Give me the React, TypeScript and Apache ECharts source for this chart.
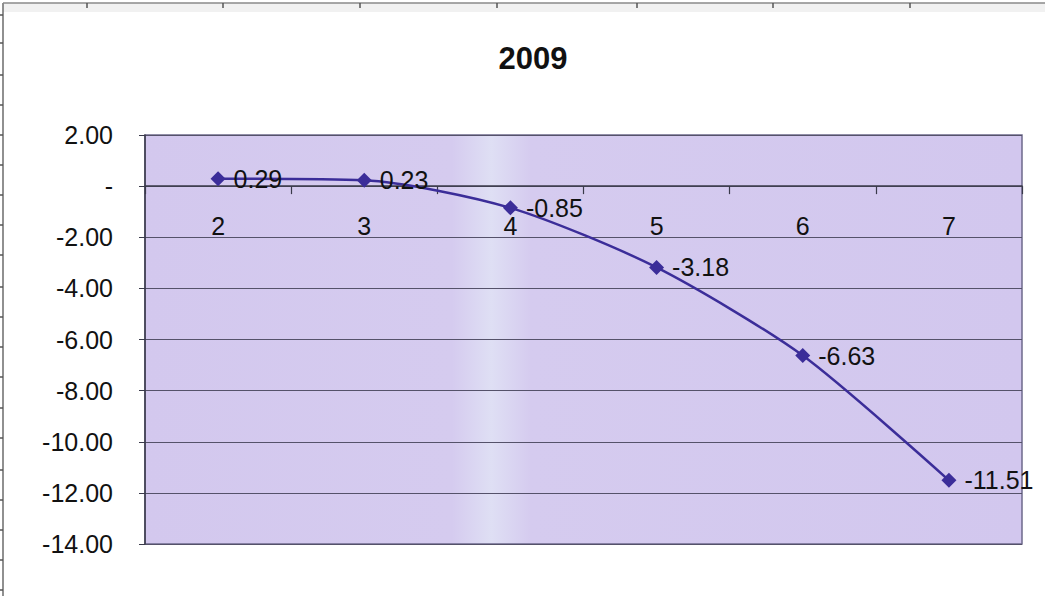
import React, { useEffect, useRef } from "react";
import * as echarts from "echarts";

// Yearly series for 2009
const title = "2009";
const categories = ["2", "3", "4", "5", "6", "7"];
const values = [0.29, 0.23, -0.85, -3.18, -6.63, -11.51];
const yMin = -14;
const yMax = 2;
const yStep = 2;

const FONT = "Liberation Sans, Arial, Helvetica, sans-serif";

export default function App() {
  const ref = useRef<HTMLDivElement>(null);

  useEffect(() => {
    if (!ref.current) return;
    const chart = echarts.init(ref.current, null, { renderer: "svg" });

    // Scanned page frame: a left rule and a top rule with short cell ticks
    const leftTicks = [15, 43, 75, 105, 135, 165, 195, 225, 255, 287, 317, 347, 377, 408, 438, 470, 500, 530, 560, 590];
    const topTicks = [87, 223, 360, 497, 637, 773, 910];
    const frame: any[] = [
      { type: "rect", shape: { x: 3, y: 3, width: 1042, height: 9 }, style: { fill: "#f1f1f1" }, silent: true },
      { type: "line", shape: { x1: 3, y1: 3, x2: 3, y2: 596 }, style: { stroke: "#6b6b6b", lineWidth: 1.5 }, silent: true },
      { type: "line", shape: { x1: 3, y1: 3, x2: 1045, y2: 3 }, style: { stroke: "#8a8a8a", lineWidth: 1.5 }, silent: true },
      ...leftTicks.map((y) => ({
        type: "line",
        shape: { x1: 0, y1: y, x2: 3, y2: y },
        style: { stroke: "#555", lineWidth: 1.5 },
        silent: true,
      })),
      ...topTicks.map((x) => ({
        type: "line",
        shape: { x1: x, y1: 3, x2: x, y2: 8 },
        style: { stroke: "#555", lineWidth: 1.5 },
        silent: true,
      })),
    ];

    chart.setOption({
      animation: false,
      backgroundColor: "#ffffff",
      title: {
        text: title,
        left: 528,
        top: 38,
        textAlign: "center",
        textStyle: { fontFamily: FONT, fontSize: 31, fontWeight: "bold", color: "#111" },
      },
      graphic: frame,
      grid: {
        left: 145,
        top: 135,
        right: 23,
        bottom: 52,
        show: true,
        borderColor: "#6e6a8c",
        borderWidth: 1.5,
        backgroundColor: new echarts.graphic.LinearGradient(0, 0, 1, 0, [
          { offset: 0, color: "#d3c8ee" },
          { offset: 0.35, color: "#d5cbef" },
          { offset: 0.395, color: "#dfdff4" },
          { offset: 0.44, color: "#d5cbef" },
          { offset: 1, color: "#d2c7ee" },
        ]),
      },
      xAxis: {
        type: "category",
        data: categories,
        boundaryGap: true,
        axisLine: { onZero: true, lineStyle: { color: "#3a3a4a", width: 1.5 } },
        axisTick: { show: true, alignWithLabel: false, length: 8, lineStyle: { color: "#3a3a4a", width: 1.2 } },
        // category labels sit just under the zero line, inside the plot
        axisLabel: { margin: -331, fontFamily: FONT, fontSize: 25, color: "#111" },
        splitLine: { show: false },
      },
      yAxis: {
        type: "value",
        min: yMin,
        max: yMax,
        interval: yStep,
        axisLine: { show: true, lineStyle: { color: "#3a3a4a", width: 1.5 } },
        axisTick: { show: true, length: 6, lineStyle: { color: "#3a3a4a" } },
        axisLabel: {
          margin: 32,
          fontFamily: FONT,
          fontSize: 25,
          color: "#111",
          formatter: (v: number) => (v === 0 ? "-" : v.toFixed(2)),
        },
        splitLine: { show: true, lineStyle: { color: "#55526a", width: 1 } },
      },
      series: [
        {
          type: "line",
          data: values,
          smooth: 0.25,
          symbol: "diamond",
          symbolSize: 15,
          itemStyle: { color: "#3b2d99" },
          lineStyle: { color: "#3b2d99", width: 2.5 },
          label: {
            show: true,
            position: "right",
            distance: 8,
            fontFamily: FONT,
            fontSize: 25,
            color: "#111",
            formatter: (p: any) => Number(p.value).toFixed(2),
          },
        },
      ],
    });

    return () => chart.dispose();
  }, []);

  return (
    <div
      ref={ref}
      style={{ position: "fixed", left: 0, top: 0, width: 1045, height: 596 }}
    />
  );
}
